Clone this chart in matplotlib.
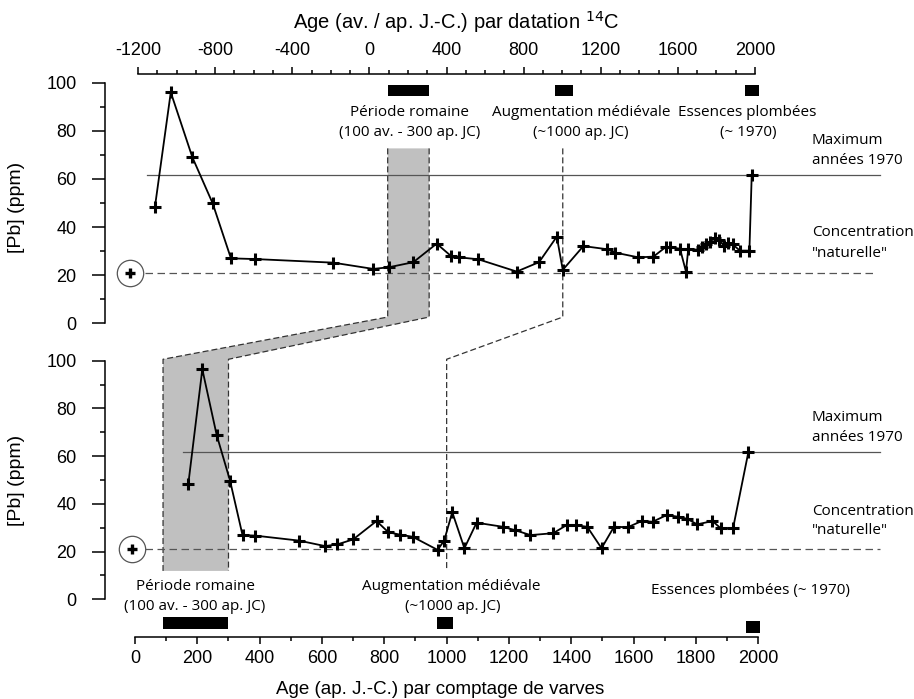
import matplotlib
matplotlib.use('Agg')
import matplotlib.pyplot as plt
from matplotlib.patches import Polygon
from matplotlib.lines import Line2D
from matplotlib.ticker import MultipleLocator

# Pb concentration, 14C dated core (top) and varve counted core (bottom)
c14_age = [-1112, -1030, -918, -813, -718, -593, -187, 20, 102, 228,
           349, 423, 467, 565, 764, 880, 972, 1003, 1110, 1231,
           1274, 1395, 1473, 1539, 1559, 1611, 1642, 1654, 1706, 1727,
           1746, 1767, 1793, 1815, 1839, 1862, 1884, 1922, 1971, 1983]
c14_pb = [48.5, 96.0, 69.0, 49.9, 27.0, 26.7, 25.2, 22.6, 23.3, 25.4,
          33.1, 28.0, 27.4, 26.6, 21.5, 25.4, 36.0, 22.2, 32.1, 30.8,
          29.4, 27.4, 27.7, 31.8, 31.6, 31.0, 21.5, 31.0, 30.5, 31.8,
          33.0, 33.9, 35.6, 34.6, 32.1, 33.5, 32.8, 30.2, 30.2, 61.6]

varve_age = [171, 216, 262, 305, 345, 385, 526, 610, 649, 700,
             775, 813, 850, 891, 971, 992, 1018, 1057, 1096, 1180,
             1219, 1269, 1342, 1385, 1415, 1451, 1497, 1537, 1581, 1626,
             1661, 1706, 1743, 1772, 1804, 1853, 1879, 1919, 1968]
varve_pb = [48.3, 96.4, 68.9, 49.7, 26.9, 26.7, 24.6, 22.3, 23.0, 25.1,
            32.8, 28.1, 27.1, 26.2, 20.7, 24.6, 36.5, 21.4, 32.1, 30.4,
            29.0, 26.9, 27.7, 31.1, 31.0, 30.4, 21.4, 30.4, 30.2, 32.8,
            32.5, 35.3, 34.6, 33.7, 31.4, 32.8, 29.8, 29.8, 61.6]

natural_pb = 21.0
max_1970_pb = 61.6

# periods: (start, end) on each age scale
roman_c14 = (95, 310)
roman_varve = (90, 300)
medieval_c14 = (965, 1055)
medieval_c14_line = 1003
medieval_varve = (970, 1020)
medieval_varve_line = 1000
leaded_c14 = (1950, 2020)
leaded_varve = (1960, 2005)

# ppm levels of the linking band
shade_top_pb = 72.7
link_top_pb = 2.6
link_bot_pb = 100.6
shade_bot_pb = 11.9

plt.rcParams['font.family'] = 'Liberation Sans'
plt.rcParams['axes.unicode_minus'] = False
ANN = 'Open Sans'

W, H = 914, 699
PT = 72 / 100  # points per pixel
fig = plt.figure(figsize=(W / 100, H / 100), dpi=100)


def box(x0, x1, ytop, ybot):
    return [x0 / W, 1 - ybot / H, (x1 - x0) / W, (ybot - ytop) / H]


def ftext(x, y, s, **kw):
    kw.setdefault('family', ANN)
    kw.setdefault('fontsize', 11)
    kw.setdefault('va', 'center')
    fig.text(x / W, 1 - y / H, s, **kw)


ax1 = fig.add_axes(box(138, 755, 82.7, 323.3))
ax2 = fig.add_axes(box(135, 758.3, 360.7, 599.3))
ax1.set_xlim(-1200, 2000)
ax2.set_xlim(0, 2000)

for ax in (ax1, ax2):
    ax.set_ylim(0, 100)
    ax.patch.set_visible(False)
    ax.spines['right'].set_visible(False)
    for s in ax.spines.values():
        s.set_linewidth(1.1)
    ax.yaxis.set_major_locator(MultipleLocator(20))
    ax.yaxis.set_minor_locator(MultipleLocator(10))
    ax.tick_params(axis='y', which='major', length=13.3 * PT, width=1.1,
                   pad=15 * PT, labelsize=13)
    ax.tick_params(axis='y', which='minor', length=5 * PT, width=1.1)
    ax.tick_params(axis='x', which='major', length=7 * PT, width=1.1,
                   labelsize=13)
    ax.tick_params(axis='x', which='minor', length=4 * PT, width=1.1)

ax1.spines['bottom'].set_visible(False)
ax1.spines['left'].set_position(('outward', 33 * PT))
ax1.spines['top'].set_position(('outward', 8.7 * PT))
ax1.xaxis.tick_top()
ax1.xaxis.set_major_locator(MultipleLocator(400))
ax1.xaxis.set_minor_locator(MultipleLocator(100))
ax1.tick_params(axis='x', which='major', pad=6)

ax2.spines['top'].set_visible(False)
ax2.spines['left'].set_position(('outward', 30 * PT))
ax2.spines['bottom'].set_position(('outward', 38 * PT))
ax2.xaxis.set_major_locator(MultipleLocator(200))
ax2.xaxis.set_minor_locator(MultipleLocator(100))
ax2.tick_params(axis='x', which='major', pad=4)


def to_fig(ax, x, y):
    return fig.transFigure.inverted().transform(ax.transData.transform((x, y)))


# grey band linking the roman period of both cores
band = [to_fig(ax1, roman_c14[0], shade_top_pb), to_fig(ax1, roman_c14[1], shade_top_pb),
        to_fig(ax1, roman_c14[1], link_top_pb), to_fig(ax2, roman_varve[1], link_bot_pb),
        to_fig(ax2, roman_varve[1], shade_bot_pb), to_fig(ax2, roman_varve[0], shade_bot_pb),
        to_fig(ax2, roman_varve[0], link_bot_pb), to_fig(ax1, roman_c14[0], link_top_pb)]
fig.add_artist(Polygon(band, closed=True, facecolor='#c0c0c0', edgecolor='none',
                       transform=fig.transFigure, zorder=-2))

for xc, xv in [(roman_c14[0], roman_varve[0]), (roman_c14[1], roman_varve[1]),
               (medieval_c14_line, medieval_varve_line)]:
    pts = [to_fig(ax1, xc, shade_top_pb), to_fig(ax1, xc, link_top_pb),
           to_fig(ax2, xv, link_bot_pb), to_fig(ax2, xv, shade_bot_pb)]
    fig.add_artist(Line2D([p[0] for p in pts], [p[1] for p in pts], color='#333333',
                          lw=0.9, dashes=(4.8, 2.4), transform=fig.transFigure, zorder=-1))

# reference levels
ax1.plot([-1155, 2649], [max_1970_pb] * 2, color='#555555', lw=0.9, clip_on=False)
ax1.plot([-1165, 2622], [natural_pb] * 2, color='#555555', lw=0.9, dashes=(6, 3.6), clip_on=False)
ax2.plot([155, 2390], [max_1970_pb] * 2, color='#555555', lw=0.9, clip_on=False)
ax2.plot([32, 2390], [natural_pb] * 2, color='#555555', lw=0.9, dashes=(6, 3.6), clip_on=False)

# circled plus marking the natural level
for ax, xc in [(ax1, -1241), (ax2, -11)]:
    ax.plot([xc], [natural_pb], 'o', ms=19, mfc='white', mec='#555555', mew=0.9, clip_on=False)
    ax.plot([xc], [natural_pb], '+', ms=7, mew=2.4, color='black', clip_on=False)

# data
for ax, x, y in [(ax1, c14_age, c14_pb), (ax2, varve_age, varve_pb)]:
    ax.plot(x, y, color='black', lw=1.3, marker='+', ms=9, mew=2.2, clip_on=False)

# period bars
for ax, (a, b), lo, hi in [(ax1, roman_c14, 94.3, 99.0), (ax1, medieval_c14, 94.3, 99.0),
                           (ax1, leaded_c14, 94.3, 99.0)]:
    ax.fill_between([a, b], lo, hi, color='black', lw=0, clip_on=False)
for ax, (a, b), lo, hi in [(ax2, roman_varve, -12.6, -7.6), (ax2, medieval_varve, -12.6, -7.6),
                           (ax2, leaded_varve, -14.0, -9.0)]:
    ax.fill_between([a, b], lo, hi, color='black', lw=0, clip_on=False)

# labels
ftext(456, 22, r'Age (av. / ap. J.-C.) par datation $^{14}$C', family='Liberation Sans',
      fontsize=14.5, ha='center')
ftext(440, 689, 'Age (ap. J.-C.) par comptage de varves', family='Liberation Sans',
      fontsize=13.5, ha='center')
ftext(17, 207, '[Pb] (ppm)', family='Liberation Sans', fontsize=14, ha='center', rotation=90)
ftext(17, 480, '[Pb] (ppm)', family='Liberation Sans', fontsize=14, ha='center', rotation=90)

ftext(410, 112.7, 'Période romaine', ha='center')
ftext(410, 132.7, '(100 av. - 300 ap. JC)', ha='center')
ftext(581, 112.7, 'Augmentation médiévale', ha='center')
ftext(581, 132.7, '(~1000 ap. JC)', ha='center')
ftext(747, 112.7, 'Essences plombées', ha='center')
ftext(748, 132.7, '(~ 1970)', ha='center')
ftext(811.7, 140, 'Maximum')
ftext(811.7, 160, 'années 1970')
ftext(811.7, 232.7, 'Concentration')
ftext(811.7, 253.3, '"naturelle"')

ftext(195, 586, 'Période romaine', ha='center')
ftext(195, 606, '(100 av. - 300 ap. JC)', ha='center')
ftext(451, 586, 'Augmentation médiévale', ha='center')
ftext(453, 606, '(~1000 ap. JC)', ha='center')
ftext(750, 590, 'Essences plombées (~ 1970)', ha='center')
ftext(811.7, 417.3, 'Maximum')
ftext(811.7, 437.3, 'années 1970')
ftext(811.7, 511.7, 'Concentration')
ftext(811.7, 531, '"naturelle"')

fig.savefig('out.png', dpi=100)
